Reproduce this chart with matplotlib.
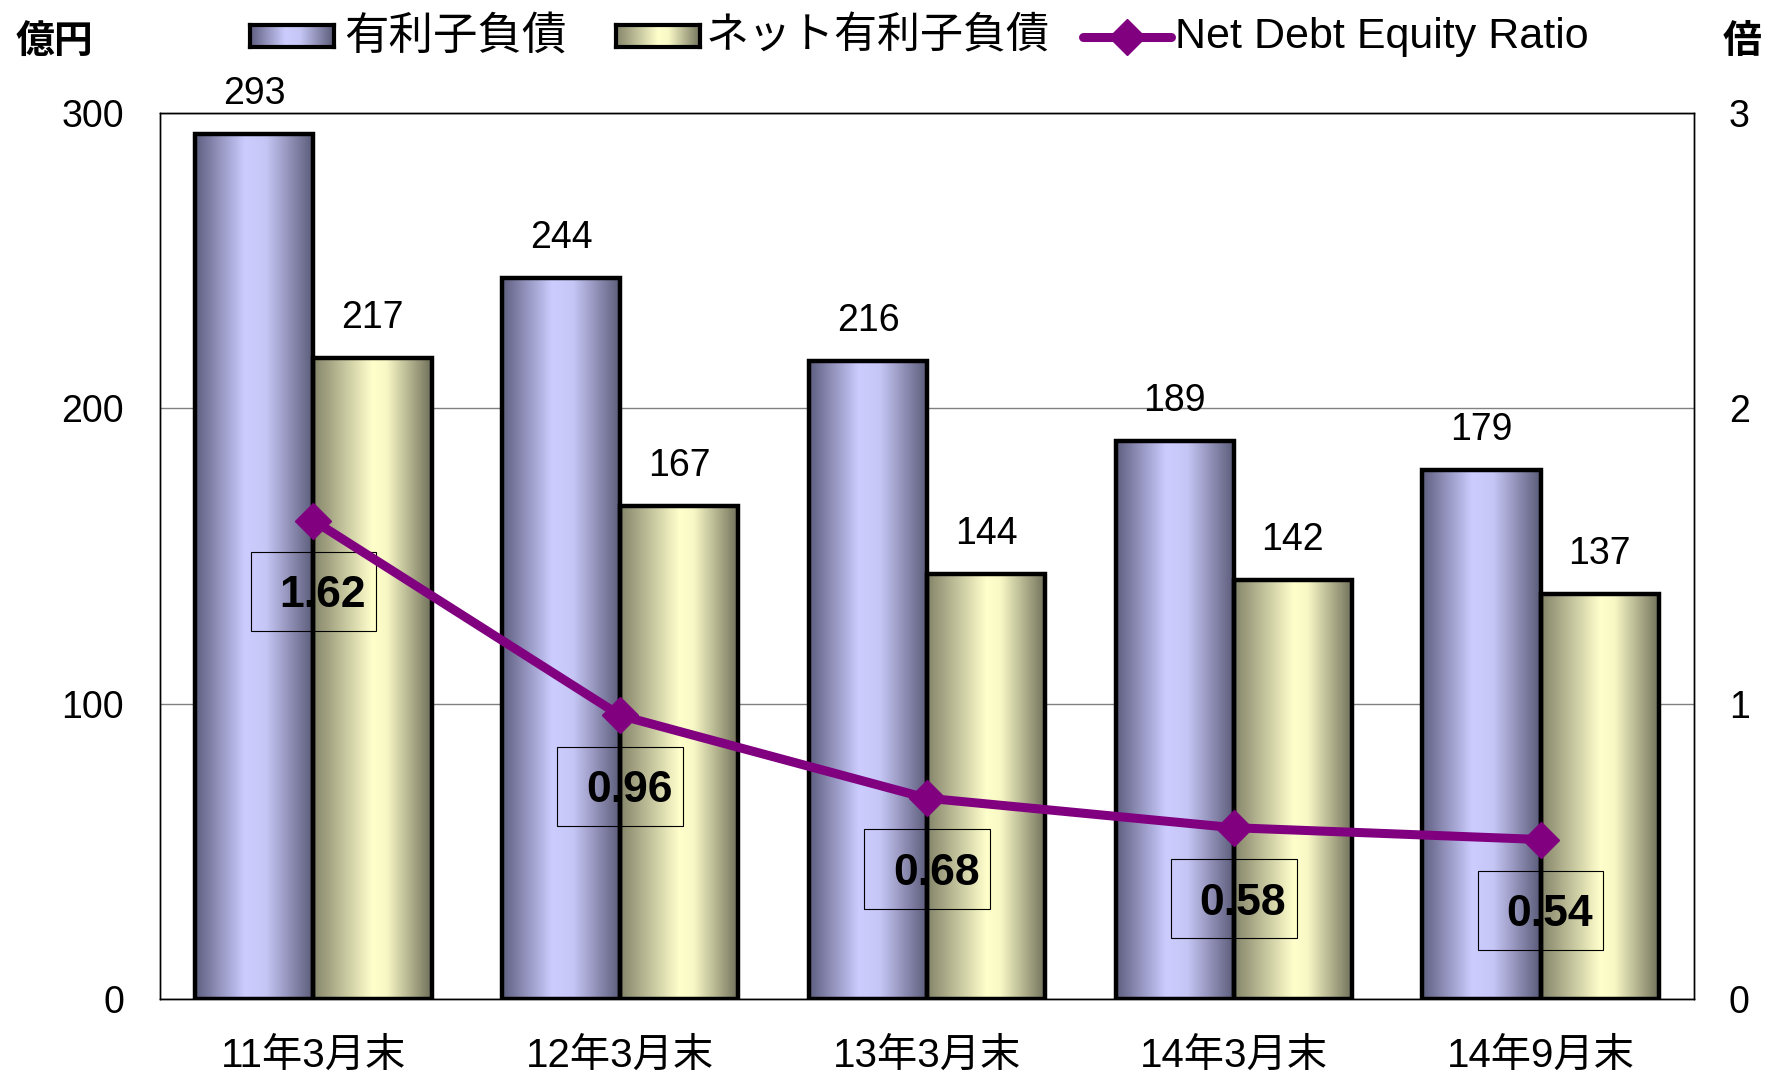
import numpy as np
import matplotlib
matplotlib.use('Agg')
import matplotlib.pyplot as plt
from matplotlib.colors import LinearSegmentedColormap
from matplotlib.patches import Rectangle
from matplotlib.lines import Line2D

plt.rcParams['font.family'] = ['Liberation Sans', 'Noto Sans CJK JP']

# =============================================================================
# Data
# =============================================================================

categories = ['11年3月末', '12年3月末', '13年3月末', '14年3月末', '14年9月末']
debt = [293, 244, 216, 189, 179]
net_debt = [217, 167, 144, 142, 137]
de_ratio = [1.62, 0.96, 0.68, 0.58, 0.54]
legend_labels = ['有利子負債', 'ネット有利子負債', 'Net Debt Equity Ratio']
left_ticks = [0, 100, 200, 300]
right_ticks = [0, 1, 2, 3]

blue_cmap = LinearSegmentedColormap.from_list('blue_bar', [(0, '#5e5e80'), (0.42, '#ccccff'), (0.6, '#c6c6f6'), (1, '#5a5a78')])
yellow_cmap = LinearSegmentedColormap.from_list('yellow_bar', [(0, '#84846a'), (0.5, '#ffffcc'), (0.62, '#f8f8c6'), (1, '#70705a')])
purple = '#800080'

# =============================================================================
# Figure
# =============================================================================

W, H = 1769, 1075
fig = plt.figure(figsize=(W / 100, H / 100), dpi=100)
ax = fig.add_axes([160 / W, 1 - 999 / H, 1534 / W, 886 / H])
ax2 = ax.twinx()

x = np.arange(len(categories))
w = 0.385
grad = np.linspace(0, 1, 256).reshape(1, -1)

for i in x:
    ax.imshow(grad, cmap=blue_cmap, extent=[i - w, i, 0, debt[i]], aspect='auto', zorder=2)
    ax.imshow(grad, cmap=yellow_cmap, extent=[i, i + w, 0, net_debt[i]], aspect='auto', zorder=2)
ax.bar(x - w / 2, debt, w, facecolor='none', edgecolor='black', lw=3.2, zorder=3)
ax.bar(x + w / 2, net_debt, w, facecolor='none', edgecolor='black', lw=3.2, zorder=3)

for i in x:
    ax.annotate(str(debt[i]), (i - w / 2, debt[i]), xytext=(0, 30), textcoords='offset pixels',
                ha='center', va='baseline', fontsize=27, annotation_clip=False)
    ax.annotate(str(net_debt[i]), (i + w / 2, net_debt[i]), xytext=(0, 30), textcoords='offset pixels',
                ha='center', va='baseline', fontsize=27, annotation_clip=False)

ax.set_xlim(-0.5, len(categories) - 0.5)
ax.set_ylim(0, 300)
ax.set_yticks(left_ticks)
ax.set_xticks(x)
ax.set_xticklabels(categories)
ax.yaxis.grid(True, color='#808080', lw=1)
ax.set_axisbelow(True)
ax.tick_params(axis='y', length=0, pad=26, labelsize=27)
ax.tick_params(axis='x', length=0, pad=27, labelsize=29)

# ratio line
ax2.plot(x, de_ratio, color=purple, lw=6.5, marker='D', ms=18, zorder=5)
for i in x:
    v = de_ratio[i]
    ax2.add_patch(Rectangle((i - 0.205, v - 0.24 - 0.134), 0.41, 0.268, fill=False, ec='black', lw=0.8, zorder=4))
    ax2.text(i + 0.03, v - 0.24, '%.2f' % v, ha='center', va='center_baseline', fontsize=32,
             fontweight='bold', zorder=6)
ax2.set_ylim(0, 3)
ax2.set_yticks(right_ticks)
ax2.tick_params(axis='y', length=0, pad=25, labelsize=27)

for a in (ax, ax2):
    for s in a.spines.values():
        s.set_color('black')
        s.set_linewidth(1)

# =============================================================================
# Legend and unit labels
# =============================================================================

ly = 1 - 37 / H
for x0, cmap in [(250, blue_cmap), (616, yellow_cmap)]:
    sw = fig.add_axes([x0 / W, 1 - 47 / H, 84 / W, 22 / H])
    sw.imshow(grad, cmap=cmap, aspect='auto')
    sw.set_xticks([])
    sw.set_yticks([])
    for s in sw.spines.values():
        s.set_linewidth(3)
fig.add_artist(Line2D([1083 / W, 1127 / W, 1171 / W], [ly, ly, ly], color=purple, lw=6.5,
                      marker='D', ms=18, markevery=[1], solid_capstyle='round'))
fig.text(344 / W, ly, legend_labels[0], fontsize=32, va='center')
fig.text(706 / W, ly, legend_labels[1], fontsize=31, va='center')
fig.text(1175 / W, ly, legend_labels[2], fontsize=31, va='center')

fig.text(16 / W, 1 - 43 / H, '億円', fontsize=28, fontweight='bold', va='center')
fig.text(1723 / W, 1 - 43 / H, '倍', fontsize=28, fontweight='bold', va='center')

plt.savefig('out.png', dpi=100)
